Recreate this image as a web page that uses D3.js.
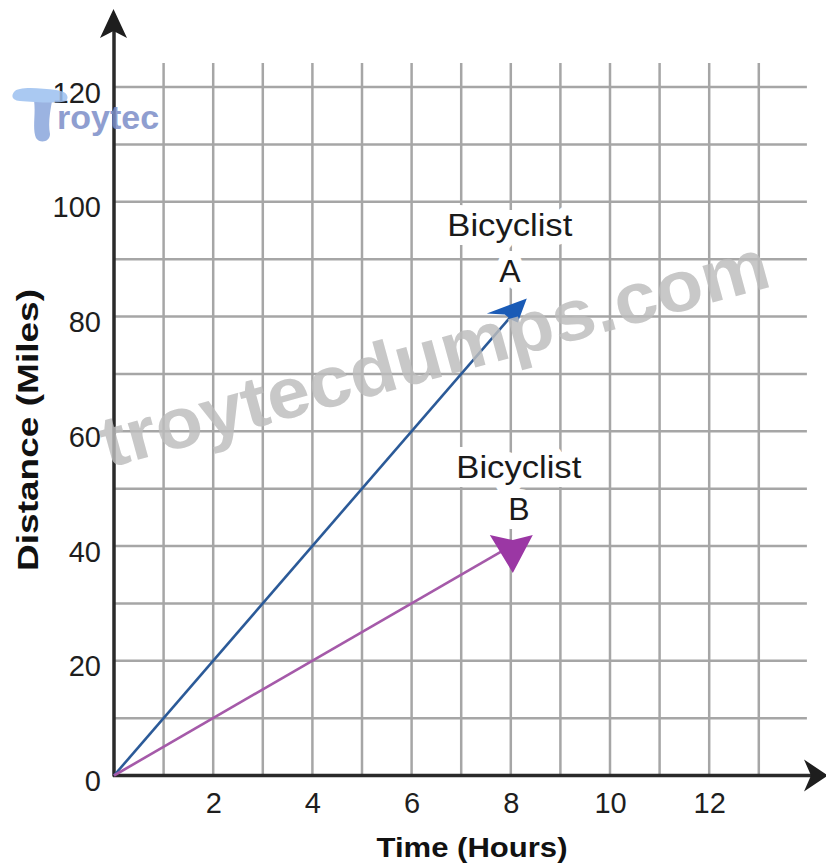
<!DOCTYPE html>
<html>
<head>
<meta charset="utf-8">
<script src="https://cdn.jsdelivr.net/npm/d3@7"></script>
<style>
  body { margin: 0; background: #fff; }
  text { font-family: "Liberation Sans", Arial, sans-serif; }
</style>
</head>
<body>
<div id="chart"></div>
<script>
// Values
const hours = [0, 8];
const distanceA = [0, 80];
const distanceB = [0, 40];
const xTicks = [2, 4, 6, 8, 10, 12];
const yTicks = [0, 20, 40, 60, 80, 100, 120];
const xGridValues = [1, 2, 3, 4, 5, 6, 7, 8, 9, 10, 11, 12, 13];
const yGridValues = [10, 20, 30, 40, 50, 60, 70, 80, 90, 100, 110, 120];
const labelsA = ["Bicyclist", "A"];
const labelsB = ["Bicyclist", "B"];

const width = 826;
const height = 865;

const svg = d3.select("#chart")
    .append("svg")
    .attr("width", width)
    .attr("height", height)
    .style("background", "#fff");

// Scales
const x = d3.scaleLinear().domain([0, 14]).range([114, 808.4]);
const y = d3.scaleLinear().domain([0, 120]).range([775.5, 87]);

const gridColor = "#a6a6a6";
const axisColor = "#2a2a2a";

// Grid
svg.append("g").selectAll("line")
    .data(xGridValues)
    .join("line")
    .attr("x1", d => x(d)).attr("x2", d => x(d))
    .attr("y1", y(0)).attr("y2", y(124.2))
    .attr("stroke", gridColor)
    .attr("stroke-width", 2.5);

svg.append("g").selectAll("line")
    .data(yGridValues)
    .join("line")
    .attr("x1", x(0)).attr("x2", x(13.97))
    .attr("y1", d => y(d)).attr("y2", d => y(d))
    .attr("stroke", gridColor)
    .attr("stroke-width", 2.5);

// Tick labels through d3 axes
const xAxis = svg.append("g")
    .attr("transform", `translate(0,${y(0)})`)
    .call(d3.axisBottom(x).tickValues(xTicks).tickSize(0).tickPadding(17).tickFormat(d3.format("d")));
const yAxis = svg.append("g")
    .attr("transform", `translate(${x(0) - 13},0)`)
    .call(d3.axisLeft(y).tickValues(yTicks).tickSize(0).tickPadding(0).tickFormat(d3.format("d")));

[xAxis, yAxis].forEach(a => {
    a.select(".domain").remove();
    a.selectAll("text")
        .attr("fill", "#1e1e1e")
        .style("font-size", "29px")
        .style("font-family", "'Liberation Sans', Arial, sans-serif");
});
xAxis.selectAll("text").attr("dy", "0.69em");
yAxis.selectAll("text").attr("dy", "0.52em");

// Main axes with arrowheads
svg.append("line")
    .attr("x1", x(0)).attr("x2", x(0))
    .attr("y1", y(0) + 1).attr("y2", 30)
    .attr("stroke", axisColor).attr("stroke-width", 3.5);
svg.append("path")
    .attr("d", `M${x(0) - 0.5},9 L${x(0) + 13},38 L${x(0) - 0.5},31 L${x(0) - 14},38 Z`)
    .attr("fill", "#1e1e1e");

svg.append("line")
    .attr("x1", x(0) - 1).attr("x2", 812)
    .attr("y1", y(0)).attr("y2", y(0))
    .attr("stroke", axisColor).attr("stroke-width", 3.5);
svg.append("path")
    .attr("d", `M828,${y(0)} L804,${y(0) - 16} L811,${y(0)} L804,${y(0) + 16} Z`)
    .attr("fill", "#1e1e1e");

// Lines
const line = d3.line().x(d => x(d[0])).y(d => y(d[1]));
const seriesA = hours.map((h, i) => [h, distanceA[i]]);
const seriesB = hours.map((h, i) => [h, distanceB[i]]);

svg.append("path")
    .attr("d", line(seriesA))
    .attr("fill", "none")
    .attr("stroke", "#2b5a98")
    .attr("stroke-width", 2.6);
svg.append("path")
    .attr("d", line(seriesB))
    .attr("fill", "none")
    .attr("stroke", "#a55aa9")
    .attr("stroke-width", 2.6);

// Arrowheads at the line ends
const endA = seriesA[seriesA.length - 1];
const endB = seriesB[seriesB.length - 1];
svg.append("path")
    .attr("transform", `translate(${x(endA[0])},${y(endA[1])})`)
    .attr("d", "M16,-18 L-24,-3 L-6,-2 L0,3 L7,6 Z")
    .attr("fill", "#1a5bb6");
svg.append("path")
    .attr("transform", `translate(${x(endB[0])},${y(endB[1])})`)
    .attr("d", "M-21,-11 L2,-6 L22,-11 L2,27 Z")
    .attr("fill", "#9b37a4");

// Labels with white backgrounds
function addLabel(lines, end, dx, baselines) {
    const g = svg.append("g");
    lines.forEach((t, i) => {
        const txt = g.append("text")
            .attr("x", x(end[0]) + dx)
            .attr("y", y(end[1]) + baselines[i])
            .attr("text-anchor", "middle")
            .attr("fill", "#1a1a1a")
            .attr("stroke", "#fff")
            .attr("stroke-width", 18)
            .attr("stroke-linejoin", "round")
            .attr("paint-order", "stroke")
            .style("font-size", "32px")
            .text(t);
        if (t.length > 2) {
            txt.attr("textLength", 125).attr("lengthAdjust", "spacingAndGlyphs");
        }
    });
}
addLabel(labelsA, endA, -1, [-81, -35]);
addLabel(labelsB, endB, 8, [-68, -26]);

// Axis titles
svg.append("text")
    .attr("x", 472)
    .attr("y", 857)
    .attr("text-anchor", "middle")
    .attr("fill", "#111")
    .attr("textLength", 191)
    .attr("lengthAdjust", "spacingAndGlyphs")
    .style("font-size", "27px")
    .style("font-weight", "bold")
    .text("Time (Hours)");

svg.append("text")
    .attr("transform", "translate(38,430) rotate(-90)")
    .attr("text-anchor", "middle")
    .attr("fill", "#111")
    .attr("textLength", 282)
    .attr("lengthAdjust", "spacingAndGlyphs")
    .style("font-size", "30px")
    .style("font-weight", "bold")
    .text("Distance (Miles)");

// Watermarks
svg.append("text")
    .attr("transform", "translate(108,468) rotate(-15.3)")
    .attr("fill", "#bdbdbd")
    .attr("opacity", 0.82)
    .attr("textLength", 690)
    .attr("lengthAdjust", "spacingAndGlyphs")
    .style("font-size", "72px")
    .style("font-weight", "bold")
    .text("troytecdumps.com");

const logo = svg.append("g").attr("opacity", 0.85);
logo.append("path")
    .attr("d", "M34,100 C36,115 32,128 36,138 C40,144 50,142 50,134 C48,124 50,112 52,101 Z")
    .attr("fill", "#8aa6dc");
logo.append("path")
    .attr("d", "M14,92 C18,86 40,88 56,90 C66,91 70,96 66,101 C58,104 34,102 20,101 C12,100 11,96 14,92 Z")
    .attr("fill", "#9cc0f0");
logo.append("text")
    .attr("x", 57)
    .attr("y", 129)
    .attr("fill", "#7c8ec8")
    .style("font-size", "34px")
    .style("font-weight", "bold")
    .text("roytec");
</script>
</body>
</html>
